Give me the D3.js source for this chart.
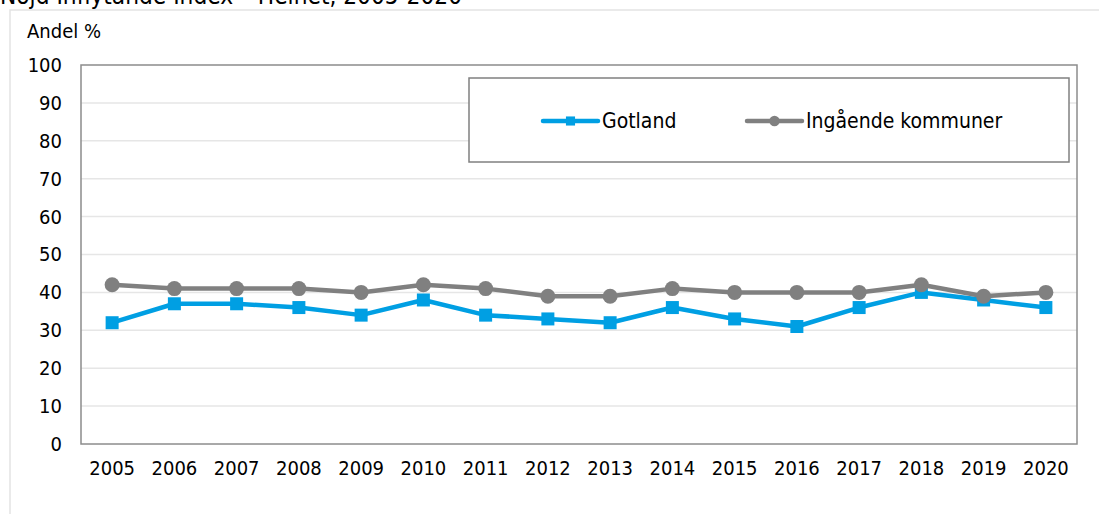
<!DOCTYPE html>
<html lang="sv">
  <head>
    <meta charset="UTF-8" />
    <title>Nöjd Inflytande Index – Helhet, 2005-2020</title>
    <script src="https://cdn.jsdelivr.net/npm/d3@7"></script>
    <style>
      body { margin: 0; background: #fff; }
      text { font-family: "DejaVu Sans Condensed", "DejaVu Sans", sans-serif; fill: #000; }
    </style>
  </head>

  <body>
    <script>
      const width = 1099;
      const height = 514;

      // data
      const years = ["2005", "2006", "2007", "2008", "2009", "2010", "2011", "2012",
        "2013", "2014", "2015", "2016", "2017", "2018", "2019", "2020"];
      const gotland = [32, 37, 37, 36, 34, 38, 34, 33, 32, 36, 33, 31, 36, 40, 38, 36];
      const ingaende = [42, 41, 41, 41, 40, 42, 41, 39, 39, 41, 40, 40, 40, 42, 39, 40];
      const yTicks = [0, 10, 20, 30, 40, 50, 60, 70, 80, 90, 100];

      const series = [
        { name: "Gotland", values: gotland, color: "#009fe3", marker: "square" },
        { name: "Ingående kommuner", values: ingaende, color: "#808080", marker: "circle" },
      ];

      const plot = { left: 81, right: 1077, top: 65, bottom: 444 };

      const svg = d3.select("body").append("svg")
        .attr("width", width)
        .attr("height", height);

      // outer chart frame (only top and left edges are visible)
      svg.append("path")
        .attr("d", `M10,${height + 5}V10H${width + 5}`)
        .attr("fill", "none")
        .attr("stroke", "#e3e3e3")
        .attr("stroke-width", 1.5);

      // title, partly cut off at the top as in the source image
      svg.append("text")
        .attr("x", 0)
        .attr("y", 4)
        .attr("textLength", 462)
        .attr("lengthAdjust", "spacingAndGlyphs")
        .style("font-size", "24px")
        .text("Nöjd Inflytande Index – Helhet, 2005-2020");

      const x = d3.scaleBand().domain(years).range([plot.left, plot.right]).padding(0);
      const y = d3.scaleLinear().domain([0, 100]).range([plot.bottom, plot.top]);

      // grid lines
      svg.append("g")
        .selectAll("line")
        .data(yTicks.filter((d) => d > 0 && d < 100))
        .join("line")
        .attr("x1", plot.left)
        .attr("x2", plot.right)
        .attr("y1", (d) => y(d))
        .attr("y2", (d) => y(d))
        .attr("stroke", "#e6e6e6")
        .attr("stroke-width", 1.5);

      // plot border
      svg.append("rect")
        .attr("x", plot.left)
        .attr("y", plot.top)
        .attr("width", plot.right - plot.left)
        .attr("height", plot.bottom - plot.top)
        .attr("fill", "none")
        .attr("stroke", "#8c8c8c")
        .attr("stroke-width", 1.5);

      // y axis labels
      const yAxis = svg.append("g")
        .attr("transform", `translate(${plot.left},0)`)
        .call(d3.axisLeft(y).tickValues(yTicks).tickSize(0).tickPadding(19));
      yAxis.select(".domain").remove();
      yAxis.selectAll("text")
        .style("font-size", "20px")
        .attr("font-family", null);

      // x axis labels
      const xAxis = svg.append("g")
        .attr("transform", `translate(0,${plot.bottom})`)
        .call(d3.axisBottom(x).tickSize(0).tickPadding(17));
      xAxis.select(".domain").remove();
      xAxis.selectAll("text")
        .style("font-size", "20px")
        .attr("font-family", null);

      svg.append("text")
        .attr("x", 27)
        .attr("y", 38)
        .style("font-size", "20px")
        .text("Andel %");

      const line = d3.line()
        .x((d, i) => x(years[i]) + x.bandwidth() / 2)
        .y((d) => y(d));

      function drawMarker(g, s, cx, cy, scale = 1) {
        if (s.marker === "square") {
          const size = 13 * scale;
          g.append("rect")
            .attr("x", cx - size / 2)
            .attr("y", cy - size / 2)
            .attr("width", size)
            .attr("height", size)
            .attr("fill", s.color);
        } else {
          g.append("circle")
            .attr("cx", cx)
            .attr("cy", cy)
            .attr("r", 7.5 * scale)
            .attr("fill", s.color);
        }
      }

      // series lines and markers
      series.forEach((s) => {
        const g = svg.append("g");
        g.append("path")
          .attr("d", line(s.values))
          .attr("fill", "none")
          .attr("stroke", s.color)
          .attr("stroke-width", 4.5)
          .attr("stroke-linejoin", "round");
        s.values.forEach((v, i) => {
          drawMarker(g, s, x(years[i]) + x.bandwidth() / 2, y(v));
        });
      });

      // legend
      const legend = svg.append("g");
      legend.append("rect")
        .attr("x", 469)
        .attr("y", 78)
        .attr("width", 600)
        .attr("height", 84)
        .attr("fill", "#fff")
        .attr("stroke", "#808080")
        .attr("stroke-width", 1.5);

      const legendX = [543, 747];
      series.forEach((s, i) => {
        const g = legend.append("g");
        const lx = legendX[i];
        g.append("line")
          .attr("x1", lx)
          .attr("x2", lx + 55)
          .attr("y1", 121)
          .attr("y2", 121)
          .attr("stroke", s.color)
          .attr("stroke-width", 4.5)
          .attr("stroke-linecap", "round");
        drawMarker(g, s, lx + 27.5, 121, 0.7);
        g.append("text")
          .attr("x", lx + 59)
          .attr("y", 121)
          .attr("dy", "0.35em")
          .style("font-size", "21px")
          .text(s.name);
      });
    </script>
  </body>
</html>
